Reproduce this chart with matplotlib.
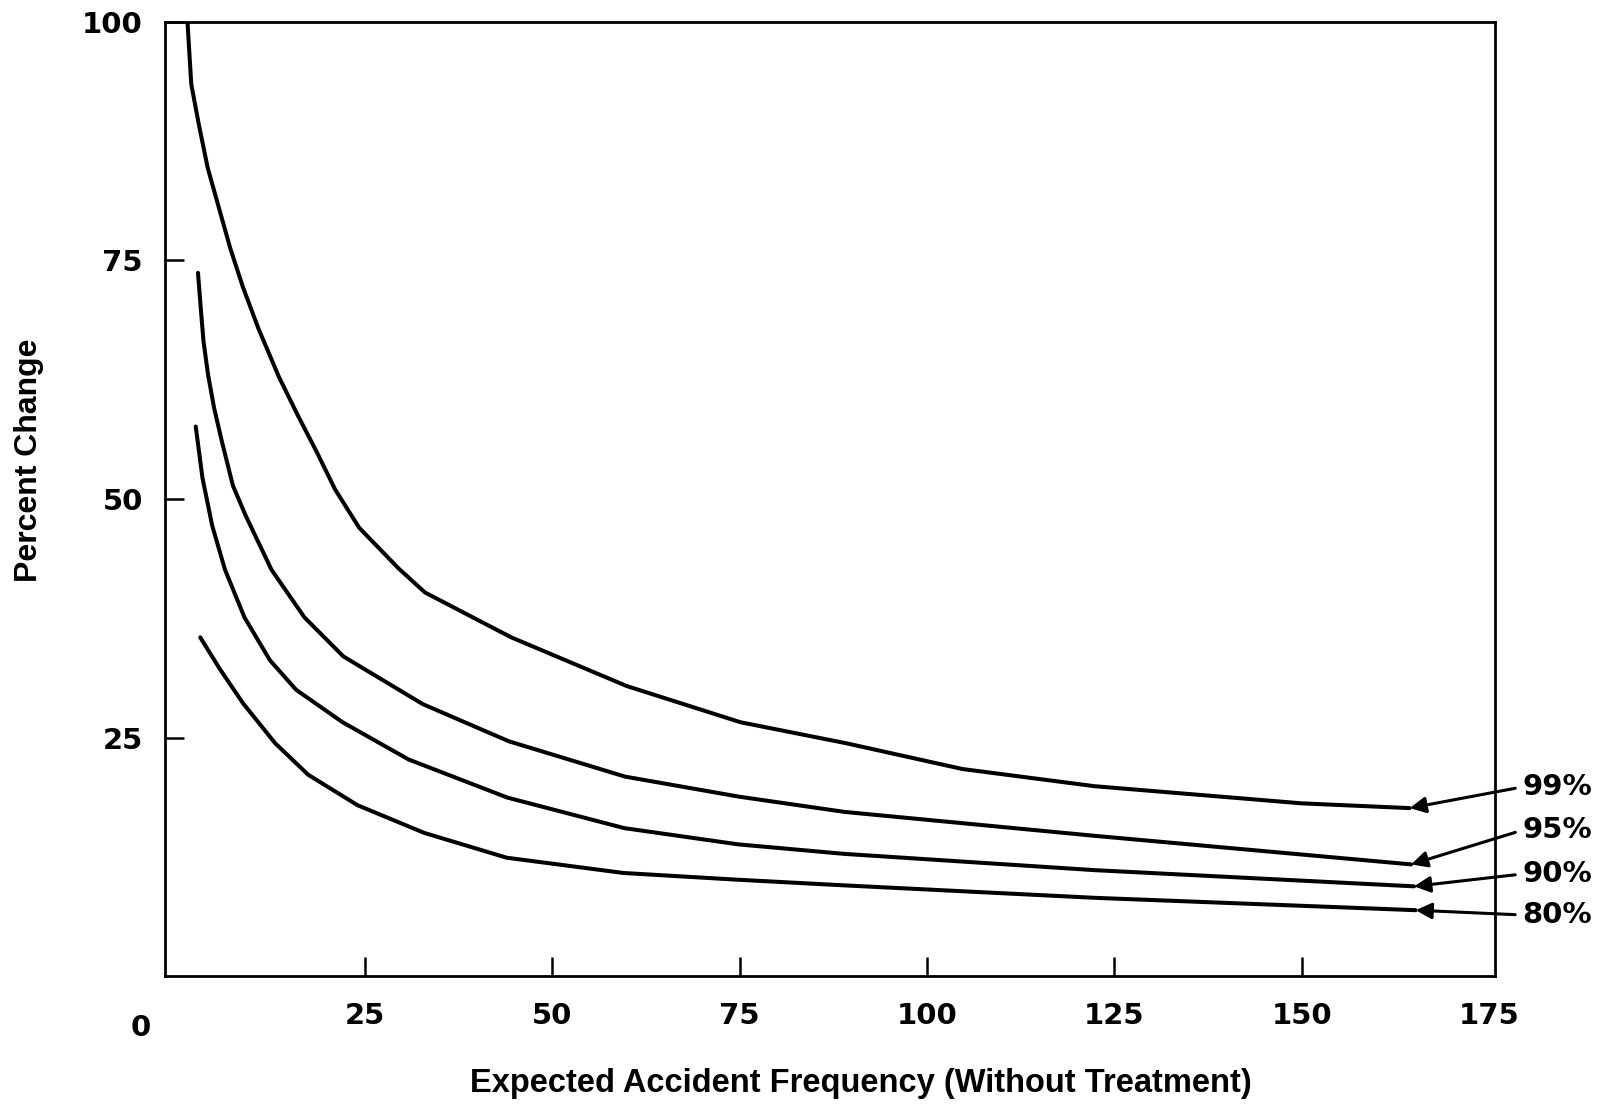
import matplotlib
matplotlib.use("Agg")
import matplotlib.pyplot as plt

# curves (x = expected accidents, y = percent change)
x_99 = [1.3, 1.8, 2.8, 4.0, 5.5, 7.0, 8.7, 10.8, 13.5, 16.0, 18.5, 21.0, 24.2,
        29.5, 33.0, 37.4, 44.5, 59.9, 75.1, 89.2, 104.7, 122.3, 150.0, 164.4]
y_99 = [100.0, 93.5, 89.3, 84.7, 80.5, 76.3, 72.2, 67.8, 62.8, 58.8, 55.0, 51.0, 47.0,
        42.7, 40.2, 38.4, 35.5, 30.4, 26.6, 24.4, 21.7, 19.9, 18.1, 17.6]

x_95 = [2.7, 3.07, 3.44, 4.05, 4.86, 5.9, 7.36, 9.1, 12.5, 16.9, 22.1, 32.7,
        44.2, 59.7, 74.9, 89.0, 122.3, 164.6]
y_95 = [73.7, 70.0, 66.5, 63.0, 59.5, 56.0, 51.4, 48.2, 42.6, 37.6, 33.5, 28.5,
        24.6, 20.9, 18.8, 17.2, 14.7, 11.7]

x_90 = [2.4, 3.3, 4.6, 6.3, 8.9, 12.3, 15.8, 22.0, 30.8, 44.0, 59.6, 74.8,
        89.0, 122.3, 165.0]
y_90 = [57.6, 52.2, 47.2, 42.6, 37.6, 33.1, 30.0, 26.6, 22.7, 18.7, 15.5, 13.8,
        12.8, 11.1, 9.4]

x_80 = [3.0, 5.6, 8.7, 13.0, 17.4, 24.0, 32.9, 43.9, 59.5, 74.6, 89.0, 122.3, 165.2]
y_80 = [35.5, 32.2, 28.6, 24.4, 21.1, 17.9, 15.0, 12.4, 10.8, 10.1, 9.5, 8.2, 6.9]

curve_labels = ["99%", "95%", "90%", "80%"]
x_ticks = [25, 50, 75, 100, 125, 150, 175]
y_ticks = [25, 50, 75, 100]

NUM_FONT = ["DejaVu Sans"]
TXT_FONT = ["Liberation Sans", "DejaVu Sans"]

plt.rcParams["font.family"] = TXT_FONT
plt.rcParams["font.weight"] = "bold"

fig = plt.figure(figsize=(16.21, 11.10), dpi=100)
ax = fig.add_axes([0.1018, 0.1207, 0.8205, 0.8595])

curves = [(x_99, y_99), (x_95, y_95), (x_90, y_90), (x_80, y_80)]
for xs, ys in curves:
    ax.plot(xs, ys, color="black", lw=2.9, solid_capstyle="round",
            solid_joinstyle="round")

ax.set_xlim(-1.7, 175.8)
ax.set_ylim(0, 100)

ax.set_xticks(x_ticks)
ax.set_xticklabels([str(t) for t in x_ticks])
ax.set_yticks(y_ticks)
ax.set_yticklabels([str(t) for t in y_ticks])
ax.tick_params(axis="both", direction="in", length=14, width=1.8, labelsize=21)
ax.tick_params(axis="x", pad=19)
ax.tick_params(axis="y", pad=16)
ax.xaxis.get_major_ticks()[-1].tick1line.set_visible(False)
for lab in ax.get_xticklabels() + ax.get_yticklabels():
    lab.set_fontweight("bold")
    lab.set_family(NUM_FONT)

for sp in ax.spines.values():
    sp.set_linewidth(2.0)

# lone zero at the corner
ax.text(-0.018, -0.054, "0", transform=ax.transAxes, ha="center", va="center",
        fontsize=21, fontweight="bold", family=NUM_FONT)

# labels with arrows pointing at curve ends
label_y = [0.291, 0.252, 0.2126, 0.1757]
for (xs, ys), lab, ly in zip(curves, curve_labels, label_y):
    ax.annotate(lab, xy=(xs[-1], ys[-1]), xycoords="data",
                xytext=(0.939, ly), textcoords="figure fraction",
                ha="left", va="center", fontsize=21, fontweight="bold",
                family=NUM_FONT, annotation_clip=False,
                arrowprops=dict(arrowstyle="-|>", color="black", lw=2.2,
                                mutation_scale=24, shrinkA=3, shrinkB=0,
                                relpos=(0, 0.5)))

fig.text(0.018, 0.585, "Percent Change", rotation=90, ha="center", va="center",
         fontsize=23, fontweight="bold")
fig.text(0.531, 0.024, "Expected Accident Frequency (Without Treatment)",
         ha="center", va="center", fontsize=23.5, fontweight="bold")

fig.savefig("out.png", dpi=100)
